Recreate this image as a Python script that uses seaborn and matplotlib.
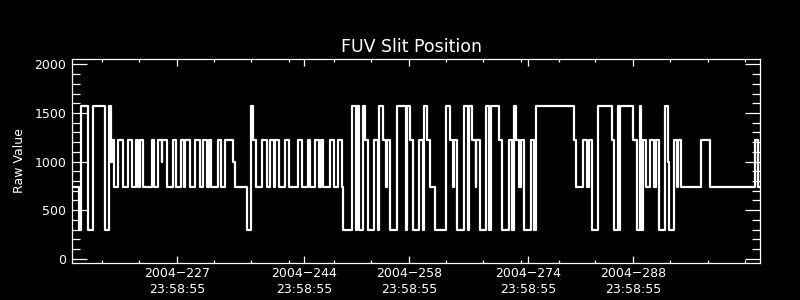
import matplotlib
matplotlib.use("Agg")
import matplotlib.pyplot as plt
import seaborn as sns
import pandas as pd

# Step changes: day-of-year (2004) at which each level starts, and the raw value held
change_day = [
    213.87, 214.84, 215.03, 216.04, 216.63, 218.27, 218.84, 219.03, 219.16, 219.47,
    220.04, 220.63, 221.37, 221.83, 222.40, 222.71, 222.93, 223.37, 224.49, 224.80,
    225.37, 225.83, 225.91, 226.49, 227.33, 227.77, 228.36, 228.80, 228.97, 229.56,
    230.31, 230.89, 231.33, 231.91, 232.09, 232.44, 233.33, 233.69, 234.31, 235.37,
    235.56, 237.20, 237.77, 238.04, 238.44, 239.24, 239.87, 240.27, 240.84, 240.97,
    241.43, 242.31, 242.76, 243.96, 244.49, 245.29, 245.64, 246.31, 246.76, 247.07,
    247.37, 248.31, 248.76, 249.29, 249.87, 249.96, 251.24, 251.73, 251.91, 252.17,
    252.71, 253.00, 253.37, 254.13, 254.67, 254.84, 255.27, 255.67, 255.91, 256.27,
    257.24, 258.40, 258.49, 258.93, 259.37, 260.17, 260.63, 260.84, 261.24, 261.64,
    262.27, 263.73, 264.23, 264.63, 264.84, 265.24, 266.17, 266.63, 266.84, 267.16,
    267.67, 267.73, 268.27, 269.13, 269.47, 269.77, 270.84, 271.20, 272.17, 272.53,
    272.84, 273.13, 273.51, 273.77, 274.13, 275.13, 275.51, 275.80, 280.84, 281.07,
    282.04, 282.57, 282.80, 283.24, 284.04, 285.83, 286.13, 286.71, 286.80, 286.93,
    288.71, 289.16, 289.60, 289.69, 290.04, 290.40, 290.93, 291.51, 291.73, 292.20,
    292.97, 293.40, 293.53, 294.07, 294.47, 294.73, 295.13, 297.67, 299.00, 304.89,
    305.33,
]
raw_value = [
    742, 296, 1570, 296, 1570, 296, 1570, 1000, 1225, 742,
    1225, 742, 1225, 742, 1225, 742, 1225, 742, 1225, 742,
    1225, 1000, 1225, 742, 1225, 742, 1225, 742, 1225, 742,
    1225, 742, 1225, 742, 1225, 742, 1225, 742, 1225, 1000,
    742, 296, 1570, 1225, 742, 1225, 742, 1225, 742, 1225,
    742, 1225, 742, 1225, 742, 1225, 742, 1225, 742, 1225,
    742, 1225, 742, 1225, 742, 296, 1570, 296, 1570, 296,
    1570, 1225, 296, 1225, 296, 1570, 1225, 742, 1225, 296,
    1570, 296, 1570, 1225, 296, 1225, 296, 1570, 1225, 742,
    296, 1570, 1225, 742, 1225, 296, 1570, 296, 1570, 1225,
    742, 1225, 296, 1570, 296, 1570, 1225, 296, 1225, 296,
    1570, 1225, 742, 1225, 296, 1225, 296, 1570, 1225, 742,
    1225, 742, 1225, 296, 1570, 1225, 296, 1570, 296, 1570,
    1225, 296, 1570, 296, 1225, 742, 1225, 742, 1225, 296,
    1570, 1000, 296, 1225, 742, 1225, 742, 1225, 742, 1225,
    742,
]
end_day = 305.60

# Axis ticks (day-of-year positions) and labels
major_tick_days = [227.91, 244.84, 258.84, 274.71, 288.71]
major_tick_labels = ["2004\u2212227\n23:58:55", "2004\u2212244\n23:58:55",
                     "2004\u2212258\n23:58:55", "2004\u2212274\n23:58:55",
                     "2004\u2212288\n23:58:55"]
minor_tick_days = [217.91, 222.84, 232.80, 237.77, 242.84, 248.84, 253.77, 263.77,
                   268.71, 273.77, 278.76, 283.64, 293.64, 298.67, 303.64]
y_major = [0, 500, 1000, 1500, 2000]
y_minor = [v for v in range(0, 2001, 100) if v % 500]

df = pd.DataFrame({"day": change_day + [end_day],
                   "value": raw_value + [raw_value[-1]]})

sns.set_style("dark", {"axes.facecolor": "black", "figure.facecolor": "black"})
plt.rcParams["font.family"] = ["DejaVu Sans"]

fig = plt.figure(figsize=(8, 3), dpi=100, facecolor="black")
ax = fig.add_axes([0.09, 0.1233, 0.86, 0.68])
ax.set_facecolor("black")

sns.lineplot(data=df, x="day", y="value", ax=ax, color="white",
             linewidth=1.6, drawstyle="steps-post", estimator=None, sort=False)

ax.set_xlim(213.87, 305.60)
ax.set_ylim(-44, 2055)
ax.grid(False)

for s in ax.spines.values():
    s.set_color("white")
    s.set_linewidth(0.9)
    s.set_visible(True)

ax.set_xticks(major_tick_days)
ax.set_xticklabels(major_tick_labels, fontsize=9, color="white", linespacing=1.25)
ax.set_xticks(minor_tick_days, minor=True)
ax.set_yticks(y_major)
ax.set_yticklabels([str(v) for v in y_major], fontsize=9, color="white")
ax.set_yticks(y_minor, minor=True)

ax.tick_params(axis="both", which="both", direction="in", colors="white",
               top=True, right=True, bottom=True, left=True, width=0.9)
ax.tick_params(axis="x", which="major", length=5, pad=3)
ax.tick_params(axis="x", which="minor", length=2.5)
ax.tick_params(axis="y", which="major", length=10.8, pad=4)
ax.tick_params(axis="y", which="minor", length=5.5)

ax.set_xlabel("")
ax.set_ylabel("Raw Value", fontsize=9, color="white", labelpad=6)
ax.text(0.494, 1.06, "FUV Slit Position", transform=ax.transAxes,
        ha="center", va="center", fontsize=12.5, color="white")

fig.savefig("out.png", dpi=100, facecolor="black")
